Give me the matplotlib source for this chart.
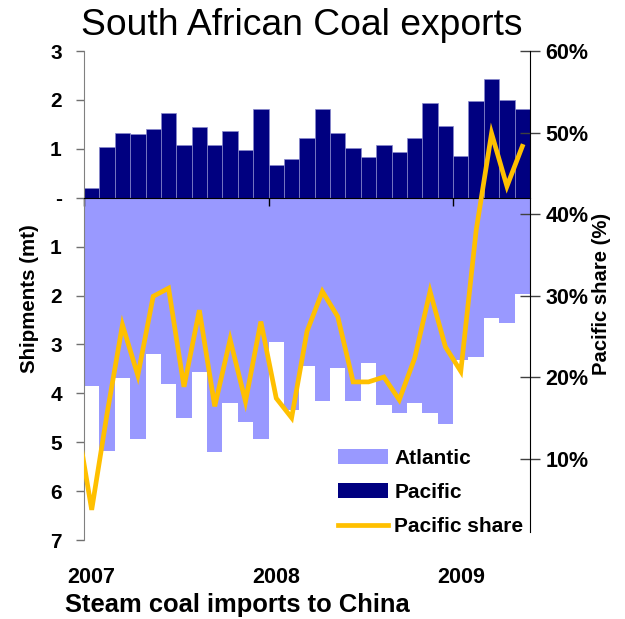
import matplotlib
matplotlib.use('Agg')
import matplotlib.pyplot as plt
from matplotlib.patches import Patch
from matplotlib.lines import Line2D

plt.rcParams['font.family'] = ['Liberation Sans', 'DejaVu Sans']

# Monthly shipments, Jan 2007 - May 2009 (million tonnes)
months = list(range(29))
pacific = [0.19, 1.04, 1.32, 1.30, 1.40, 1.73, 1.08, 1.44, 1.08, 1.37, 0.97, 1.82,
           0.66, 0.79, 1.22, 1.82, 1.32, 1.02, 0.84, 1.08, 0.94, 1.22, 1.93, 1.46,
           0.86, 1.98, 2.42, 2.00, 1.82]
atlantic = [3.85, 5.18, 3.69, 4.94, 3.19, 3.81, 4.51, 3.57, 5.21, 4.19, 4.58, 4.94,
            2.96, 4.34, 3.44, 4.16, 3.48, 4.16, 3.37, 4.24, 4.40, 4.19, 4.41, 4.63,
            3.31, 3.26, 2.46, 2.57, 1.96]
# Pacific share (%), Dec 2006 - May 2009
share_months = list(range(-1, 29))
pacific_share = [15.0, 3.7, 15.5, 26.4, 20.2, 29.9, 30.9, 18.8, 28.2, 16.4, 24.6, 17.0,
                 26.8, 17.4, 15.0, 25.6, 30.5, 27.4, 19.4, 19.4, 20.0, 17.2, 22.3, 30.5,
                 23.7, 20.7, 38.0, 49.9, 43.4, 48.3]
year_labels = ['2007', '2008', '2009']
year_pos = [0, 12, 24]

navy = '#000080'
lilac = '#9999FF'
gold = '#FFC000'

fig = plt.figure(figsize=(6.25, 6.19), dpi=100)
ax = fig.add_axes([0.1344, 0.1276, 0.7136, 0.79])

ax.bar(months, pacific, width=1.0, color=navy, edgecolor='#8888cc', linewidth=0.5)
ax.bar(months, [-a for a in atlantic], width=1.0, color=lilac, linewidth=0)

ax.set_xlim(-0.5, 28.5)
ax.set_ylim(-7, 3)
ax.set_yticks(range(3, -8, -1))
ax.set_yticklabels(['3', '2', '1', '-'] + [str(v) for v in range(1, 8)],
                   fontsize=15, fontweight='bold')
ax.tick_params(axis='y', direction='out', length=6, width=1, color='#707070', pad=10)

ax.spines['top'].set_visible(False)
ax.spines['right'].set_visible(False)
ax.spines['left'].set_color('#808080')
ax.spines['bottom'].set_position(('data', 0))
ax.spines['bottom'].set_color('black')
ax.set_xticks([-0.5, 11.5, 23.5])
ax.set_xticklabels([])
ax.tick_params(axis='x', direction='out', length=6, width=1, color='black')

for lab, pos in zip(year_labels, year_pos):
    ax.text(pos, -0.076, lab, transform=ax.get_xaxis_transform(), ha='center',
            va='center', fontsize=15.5, fontweight='bold')

ax2 = ax.twinx()
ax2.plot(share_months, [s / 100 for s in pacific_share], color=gold, lw=3.4,
         solid_joinstyle='miter')
ax2.set_xlim(-0.5, 28.5)
ax2.set_ylim(0, 0.6)
ax2.set_yticks([0.1, 0.2, 0.3, 0.4, 0.5, 0.6])
ax2.set_yticklabels(['10%', '20%', '30%', '40%', '50%', '60%'],
                    fontsize=15.5, fontweight='bold')
ax2.tick_params(axis='y', direction='inout', length=14, width=1, color='#404040', pad=4)
for side in ['top', 'left', 'bottom']:
    ax2.spines[side].set_visible(False)
ax2.spines['right'].set_color('black')
ax2.spines['right'].set_bounds(0.01, 0.6)

handles = [Patch(facecolor=lilac, edgecolor='none'),
           Patch(facecolor=navy, edgecolor='none'),
           Line2D([], [], color=gold, lw=3.4)]
ax2.legend(handles, ['Atlantic', 'Pacific', 'Pacific share'],
           loc='upper left', bbox_to_anchor=(0.5408, 0.2746),
           bbox_transform=fig.transFigure, frameon=False, borderpad=0,
           borderaxespad=0, handlelength=2.4, handleheight=0.75,
           handletextpad=0.3, labelspacing=0.72,
           prop={'size': 15, 'weight': 'bold'})

fig.text(0.4827, 0.9435, 'South African Coal exports', ha='center', va='baseline',
         fontsize=26.8)
fig.text(0.048, 0.517, 'Shipments (mt)', rotation=90, ha='center', va='center',
         fontsize=14.8, fontweight='bold')
fig.text(0.963, 0.525, 'Pacific share (%)', rotation=90, ha='center', va='center',
         fontsize=14.6, fontweight='bold')
fig.text(0.104, 0.0226, 'Steam coal imports to China', ha='left', va='center',
         fontsize=18.4, fontweight='bold')

fig.savefig('out.png', dpi=100, facecolor='white')
